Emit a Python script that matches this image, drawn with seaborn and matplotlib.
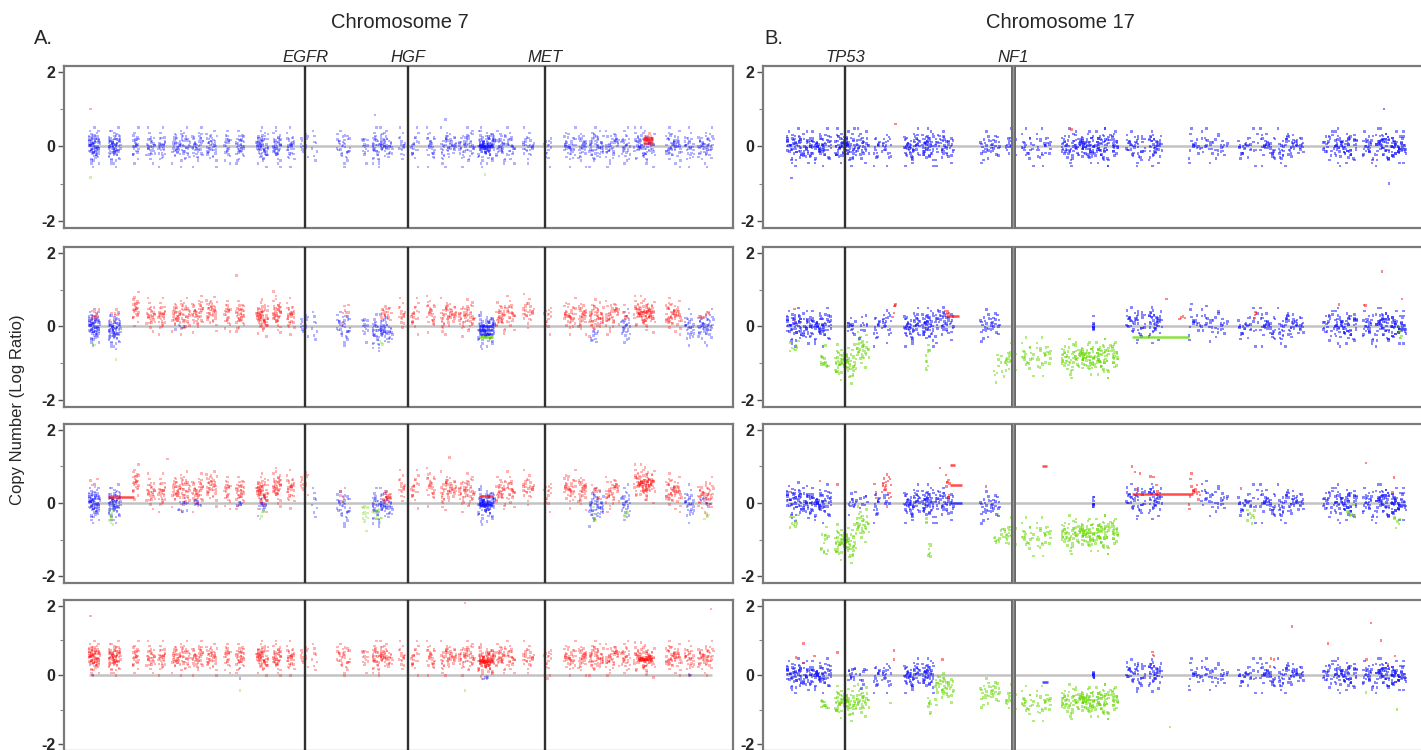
import numpy as np
import pandas as pd
import matplotlib
matplotlib.use("Agg")
import matplotlib.pyplot as plt
import seaborn as sns

sns.set_theme(style="white")
plt.rcParams["font.family"] = ["Liberation Sans", "DejaVu Sans"]

# ---------------------------------------------------------------- data
# probe clusters along each chromosome (Mb): centre, half-width, probe count
chr7_centre = [1.2, 6.3, 11.8, 15.6, 18.5, 23.3, 27.6, 31.2, 35.3, 38.5, 44.1, 47.9, 51.4, 54.9, 57.5,
               64.9, 70.4, 74.6, 79.8, 83.1, 87.2, 91.6, 96.3, 101.3, 105.1, 107.7, 112.1, 117.1, 122.7,
               125.9, 129.4, 133.5, 137.0, 141.7, 149.1, 153.2, 157.3]
chr7_halfw = [1.3, 1.5, 0.8, 1.0, 0.9, 2.2, 1.3, 1.3, 0.8, 1.0, 1.4, 1.0, 1.0, 0.9, 0.7, 1.6, 0.7, 2.5, 0.7,
              1.0, 1.0, 1.9, 1.9, 2.0, 1.2, 1.0, 1.4, 0.9, 1.4, 1.0, 1.7, 1.7, 1.0, 2.6, 1.9, 1.2, 1.9]
chr7_count = [85, 85, 26, 30, 28, 65, 40, 40, 22, 34, 65, 42, 30, 14, 8, 35, 14, 78, 17, 20, 28, 50, 50, 95,
              34, 25, 28, 14, 40, 30, 54, 42, 30, 75, 56, 30, 50]
chr7_genes = ["EGFR", "HGF", "MET"]
chr7_gene_pos = [55.1, 81.3, 116.4]
chr7_len = 159.1

chr17_centre = [1.4, 4.3, 7.6, 9.8, 11.7, 13.0, 16.3, 18.4, 20.5, 26.5, 29.2, 31.4, 33.5, 37.2, 40.7, 45.5,
                48.0, 53.1, 55.7, 60.1, 62.7, 65.6, 70.6, 72.8, 75.8, 78.7]
chr17_halfw = [1.4, 1.4, 1.3, 0.8, 0.4, 0.6, 1.0, 0.7, 1.2, 1.2, 0.7, 0.8, 1.0, 1.4, 2.3, 1.2, 0.8, 0.7, 1.6,
               1.3, 1.0, 1.6, 0.7, 1.4, 0.7, 1.9]
chr17_count = [75, 70, 75, 35, 14, 20, 55, 48, 48, 35, 21, 21, 25, 62, 125, 42, 42, 17, 35, 30, 35, 56, 20, 70,
               28, 105]
chr17_genes = ["TP53", "NF1"]
chr17_gene_pos = [7.6, 29.5]
chr17_len = 80.6

# fixed probe-scatter tables (position within a cluster, residual in sd units)
XQ = [-0.9, 0.3, -0.5, 0.8, -0.1, 0.3, -0.9, 0.55, -0.3, 0.1, 1.0, -0.7, 0.3, -0.5, 0.8, -0.1, 0.55, -0.9,
      0.1, -0.3, 0.8, -0.7, 0.3, 1.0, -0.5, -0.1, 0.55, -0.9, 0.1, 0.8, -0.3, -0.7, 0.3, 1.0, -0.1, 0.55,
      -0.5, 0.1, -0.3, -0.7]
YJ = [0.12, -0.85, 1.43, -0.31, 0.67, -1.62, 0.05, 0.94, -0.48, 1.98, -1.12, 0.33, -0.07, 0.71, -2.2, 0.49,
      -0.66, 1.15, -0.19, 0.27, -1.35, 0.88, -0.93, 0.58, 1.7, -0.41, -0.02, 1.02, -0.77, 0.21, -1.8, 0.39,
      1.27, -0.56, 0.14, -1.05, 0.62, -0.26, 2.4, -0.71, 0.08, -1.49, 0.81, -0.14, 0.45, -0.98, 1.56, -0.36,
      0.29, -0.6, 1.09, -1.22, 0.17, -0.09, 0.74, -2.6, 0.53, -0.45, 1.32, -0.24, 0.97]

# ---- Chromosome 7 samples: per-cluster level / call, extra groups, segments
a1_levels = [0.0] * 37
a1_calls = "b" * 37
a1_sd = 0.21
a1_extra = [(101.3, 1.6, 40, 0.0, "b", 0.05), (142.6, 1.0, 14, 0.18, "r", 0.07), (0.3, 0, 1, 1.0, "r", 0),
            (0.3, 0, 1, -0.83, "g", 0), (101.0, 0, 1, -0.75, "g", 0), (91.0, 0, 1, 0.72, "b", 0),
            (73.0, 0, 1, 0.85, "b", 0)]
a1_segs = [(141.3, 143.9, 0.24, "r"), (141.3, 143.9, 0.17, "r"), (141.3, 143.9, 0.10, "r"),
           (99.5, 103.2, 0.0, "b")]

a2_levels = [0.0, -0.1, 0.45, 0.3, 0.3, 0.3, 0.35, 0.4, 0.3, 0.3, 0.25, 0.35, 0.3, 0.0, 0.0, 0.0, 0.0, -0.15,
             0.3, 0.3, 0.35, 0.3, 0.25, -0.1, 0.25, 0.35, 0.4, 0.3, 0.3, 0.3, 0.25, 0.3, 0.0, 0.35, 0.3, 0.0, 0.0]
a2_calls = "bb" + "r" * 11 + "b" * 5 + "r" * 5 + "b" + "r" * 8 + "b" + "rr" + "bb"
a2_sd = 0.2
a2_extra = [(1.5, 1.0, 10, 0.4, "r", 0.12), (1.2, 0.5, 2, -0.5, "g", 0.05), (6.3, 1.2, 8, 0.3, "r", 0.1),
            (6.8, 0, 1, -0.9, "g", 0), (23.3, 1.5, 5, 0.0, "b", 0.1), (65.5, 1.0, 8, 0.35, "r", 0.12),
            (75.8, 1.2, 20, 0.35, "r", 0.12), (74.8, 0.6, 3, -0.4, "g", 0.05), (101.3, 1.6, 8, -0.3, "g", 0.03),
            (129.0, 1.0, 10, -0.2, "b", 0.12), (137.0, 0.8, 8, 0.3, "r", 0.12), (142.0, 1.8, 30, 0.35, "r", 0.08),
            (157.0, 1.5, 10, 0.3, "r", 0.12), (37.6, 0, 1, 1.39, "r", 0), (47.0, 0, 1, 0.95, "r", 0)]
a2_segs = [(99.5, 103.2, 0.0, "b"), (99.5, 103.2, -0.1, "b"), (99.5, 103.2, -0.2, "b"),
           (99.5, 103.2, -0.3, "g")]

a3_levels = [0.0, 0.0, 0.55, 0.3, 0.3, 0.35, 0.3, 0.45, 0.3, 0.3, 0.3, 0.45, 0.4, 0.5, 0.0, -0.1, -0.3, -0.1,
             0.4, 0.4, 0.45, 0.35, 0.3, -0.05, 0.3, 0.35, 0.4, 0.3, 0.4, 0.35, -0.1, 0.3, 0.0, 0.55, 0.3, 0.0, 0.2]
a3_calls = "bb" + "r" * 12 + "bb" + "g" + "b" + "r" * 5 + "b" + "r" * 6 + "b" + "r" + "b" + "rr" + "b" + "r"
a3_sd = 0.21
a3_extra = [(1.2, 1.0, 4, 0.6, "r", 0.1), (5.6, 0.6, 12, -0.45, "g", 0.18), (23.8, 1.2, 12, -0.05, "b", 0.12),
            (27.6, 0.8, 8, 0.0, "b", 0.1), (38.5, 0.7, 6, 0.0, "b", 0.08), (44.1, 1.0, 12, -0.1, "b", 0.12),
            (44.1, 0.6, 5, -0.35, "g", 0.1), (65.0, 1.0, 6, 0.3, "r", 0.1), (73.5, 1.2, 12, -0.4, "g", 0.15),
            (76.0, 1.0, 12, 0.2, "r", 0.1), (129.0, 0.6, 8, -0.4, "g", 0.12), (129.4, 1.2, 10, 0.3, "r", 0.12),
            (137.0, 0.6, 6, -0.3, "g", 0.1), (142.2, 1.6, 30, 0.55, "r", 0.07), (141.7, 2.0, 10, 0.3, "r", 0.1),
            (157.3, 1.4, 8, 0.0, "b", 0.1), (157.8, 0.8, 4, -0.3, "g", 0.08), (101.3, 1.6, 30, -0.03, "b", 0.05),
            (92.0, 0, 1, 1.25, "r", 0), (20.0, 0, 1, 1.2, "r", 0)]
a3_segs = [(4.8, 11.5, 0.17, "r"), (99.5, 103.2, 0.2, "r"), (99.5, 103.2, -0.05, "b"), (75.5, 77.0, 0.15, "r")]

a4_levels = [0.5] * 23 + [0.4] + [0.5] * 9 + [0.45] + [0.5] * 3
a4_calls = "r" * 37
a4_sd = 0.2
a4_extra = [(101.3, 1.6, 35, 0.4, "r", 0.05), (142.0, 1.6, 30, 0.45, "r", 0.06), (0.3, 0, 1, 1.7, "r", 0),
            (158.8, 0, 1, 1.9, "r", 0), (96.0, 0, 1, 2.08, "r", 0), (0.2, 0, 1, 0.3, "b", 0),
            (0.8, 0, 1, 0.0, "b", 0), (38.5, 0, 1, 0.2, "b", 0), (38.5, 0, 1, -0.1, "b", 0),
            (101.3, 0.8, 4, -0.08, "b", 0.02), (153.5, 0.5, 3, 0.0, "b", 0.02), (38.5, 0, 1, -0.45, "g", 0),
            (96.0, 0, 1, -0.45, "g", 0), (117.0, 0, 1, -0.1, "r", 0)]
a4_segs = [(99.5, 103.2, 0.41, "r"), (140.5, 143.8, 0.45, "r")]

# ---- Chromosome 17 samples
b1_levels = [0.0] * 26
b1_calls = "b" * 26
b1_sd = 0.2
b1_extra = [(14.2, 0, 1, 0.6, "r", 0), (37.1, 0, 1, 0.45, "r", 0), (7.6, 0.3, 12, 0.0, "b", 0.15),
            (29.5, 0.1, 6, -0.3, "b", 0.25), (29.5, 0, 1, -0.75, "b", 0), (77.9, 0, 1, 1.0, "b", 0),
            (78.5, 0, 1, -1.0, "b", 0), (0.6, 0, 1, -0.85, "b", 0)]
b1_segs = []

b2_levels = [0.0, 0.0, -1.0, -0.65, 0.0, 0.1, 0.0, 0.0, 0.1, 0.05, -0.95, -0.8, -0.8, -0.85, -0.85, 0.1, 0.1,
             0.1, 0.05, 0.0, 0.0, 0.0, 0.0, 0.0, 0.0, 0.0]
b2_calls = "bbggbbbbbb" + "ggggg" + "b" * 11
b2_sd = 0.21
b2_extra = [(1.0, 0.6, 8, -0.45, "g", 0.12), (1.0, 0, 1, 0.47, "r", 0), (1.0, 0, 1, 0.18, "r", 0),
            (4.9, 0.5, 14, -0.95, "g", 0.18), (8.4, 0.5, 15, 0.0, "b", 0.15), (10.0, 0.5, 10, 0.0, "b", 0.15),
            (14.0, 0.2, 5, 0.4, "r", 0.15), (18.4, 0.3, 10, -0.8, "g", 0.15), (20.9, 0.3, 5, 0.35, "r", 0.05),
            (27.8, 0.9, 15, -1.0, "g", 0.2), (40.0, 0.05, 10, 0.0, "b", 0.12), (51.5, 0.6, 4, 0.2, "r", 0.08),
            (61.0, 0.2, 5, 0.3, "r", 0.12), (72.0, 0, 1, 0.6, "r", 0), (75.3, 0.3, 2, 0.55, "r", 0.03),
            (77.6, 0, 1, 1.5, "r", 0), (80.2, 0, 1, 0.75, "r", 0), (80.0, 0.2, 5, -0.3, "g", 0.12),
            (49.5, 0, 1, 0.75, "r", 0)]
b2_segs = [(45.0, 52.5, -0.28, "g"), (20.7, 22.5, 0.28, "r")]

b3_levels = [0.05, 0.0, -1.1, -0.6, 0.0, 0.45, 0.0, 0.0, 0.0, -0.1, -0.9, -0.9, -0.9, -0.85, -0.85, 0.1, 0.1,
             0.3, 0.1, 0.0, 0.0, 0.0, 0.0, 0.0, 0.0, 0.0]
b3_calls = "bbggbrbbbb" + "ggggg" + "bbrbbbbbbbb"
b3_sd = 0.21
b3_extra = [(1.0, 0.6, 10, -0.4, "g", 0.15), (0.5, 0, 1, 0.3, "r", 0), (4.9, 0.5, 14, -1.0, "g", 0.22),
            (4.3, 0, 1, 0.6, "r", 0), (6.6, 0, 1, 0.5, "r", 0), (8.6, 0.5, 14, 0.0, "b", 0.15),
            (10.0, 0.5, 8, 0.0, "b", 0.15), (11.7, 0.3, 3, 0.5, "r", 0.2), (13.0, 0.4, 6, 0.0, "b", 0.15),
            (18.6, 0.2, 8, -1.2, "g", 0.15), (18.2, 0, 3, -0.5, "g", 0.1), (21.0, 0.3, 8, 0.45, "r", 0.2),
            (27.7, 0.9, 15, -0.9, "g", 0.25), (26.0, 0, 1, 0.45, "r", 0), (45.5, 1.0, 4, 0.7, "r", 0.15),
            (48.0, 0.6, 4, 0.5, "r", 0.2), (60.5, 0.5, 8, -0.3, "g", 0.1), (59.2, 0, 1, 0.4, "r", 0),
            (40.0, 0.05, 10, 0.1, "b", 0.12), (73.5, 0.6, 8, -0.3, "g", 0.1), (79.5, 0.4, 6, -0.5, "g", 0.12),
            (75.5, 0, 1, 1.1, "r", 0), (79.2, 0, 1, 0.7, "r", 0), (79.0, 0, 1, 0.3, "r", 0),
            (20.0, 0, 1, 0.95, "r", 0)]
b3_segs = [(21.3, 22.8, 0.5, "r"), (21.3, 21.9, 1.05, "r"), (21.3, 22.8, 0.0, "b"), (45.0, 53.0, 0.25, "r"),
           (33.3, 33.9, 1.0, "r")]

b4_levels = [0.0, 0.0, -0.8, -0.75, 0.0, 0.0, 0.0, 0.0, -0.35, -0.5, -0.75, -0.8, -0.8, -0.75, -0.75, 0.05,
             0.05, 0.0, 0.0, 0.0, 0.0, 0.0, 0.0, 0.0, 0.0, 0.0]
b4_calls = "bbggbbbbgggggggbbbbbbbbbbb"
b4_sd = 0.2
b4_extra = [(1.2, 0, 1, 0.5, "r", 0), (2.2, 0, 1, 0.9, "r", 0), (2.2, 0, 1, 0.35, "r", 0),
            (4.9, 0.5, 10, -0.85, "g", 0.15), (3.6, 0, 1, 0.55, "r", 0), (6.6, 0, 1, 0.65, "r", 0),
            (8.5, 0.5, 14, 0.0, "b", 0.15), (10.0, 0.5, 8, 0.0, "b", 0.15), (14.0, 0, 1, 0.7, "r", 0),
            (14.0, 0, 1, 0.45, "r", 0), (13.5, 0, 1, -0.8, "g", 0), (18.6, 0.2, 8, -0.9, "g", 0.15),
            (20.3, 0, 1, 0.45, "r", 0), (40.0, 0.05, 10, 0.0, "b", 0.1), (47.8, 0.2, 3, 0.5, "r", 0.08),
            (63.4, 0.3, 2, 0.45, "r", 0.02), (63.0, 0, 1, 0.25, "r", 0), (65.9, 0, 1, 1.4, "r", 0),
            (70.6, 0, 1, 0.9, "r", 0), (75.6, 0, 1, 0.45, "r", 0), (76.2, 0, 1, 1.5, "r", 0),
            (77.5, 0, 1, 1.0, "r", 0), (78.4, 0, 1, 0.3, "r", 0), (79.3, 0, 1, 0.55, "r", 0),
            (75.5, 0, 1, -0.5, "g", 0), (79.6, 0, 1, -1.0, "g", 0), (50.0, 0, 1, -1.5, "g", 0)]
b4_segs = [(33.3, 34.0, -0.2, "b")]

# ---------------------------------------------------------------- helpers
PAL = {"b": "#1010ff", "r": "#ff1010", "g": "#66d800"}


def probes(centre, halfw, count, levels, calls, sd, extra):
    xs, ys, cs = [], [], []
    nx, ny = len(XQ), len(YJ)
    for c, (ctr, hw, n, lv, cl) in enumerate(zip(centre, halfw, count, levels, calls)):
        for k in range(n):
            fine = 0.06 * YJ[(3 * k + 2 * c) % ny]
            xs.append(ctr + hw * (XQ[(k + 3 * c) % nx] + fine))
            ys.append(lv + sd * YJ[(7 * k + 5 * c) % ny])
            cs.append(cl)
    for e, (ctr, hw, n, lv, cl, esd) in enumerate(extra):
        for k in range(n):
            fine = 0.06 * YJ[(3 * k + 7 * e) % ny]
            xs.append(ctr + hw * (XQ[(k + 11 * e) % nx] + fine))
            ys.append(lv + esd * YJ[(5 * k + 13 * e) % ny])
            cs.append(cl)
    return pd.DataFrame({"pos": xs, "lr": ys, "call": cs})


W, H = 1421, 750
fig = plt.figure(figsize=(W / 100, H / 100), dpi=100)

rows_px = [(66, 228), (247, 407), (424, 583), (600, 751)]
col_px = [(64, 733), (763, 1431)]

chr7_samples = [(a1_levels, a1_calls, a1_sd, a1_extra, a1_segs), (a2_levels, a2_calls, a2_sd, a2_extra, a2_segs),
                (a3_levels, a3_calls, a3_sd, a3_extra, a3_segs), (a4_levels, a4_calls, a4_sd, a4_extra, a4_segs)]
chr17_samples = [(b1_levels, b1_calls, b1_sd, b1_extra, b1_segs), (b2_levels, b2_calls, b2_sd, b2_extra, b2_segs),
                 (b3_levels, b3_calls, b3_sd, b3_extra, b3_segs), (b4_levels, b4_calls, b4_sd, b4_extra, b4_segs)]

chroms = [
    dict(centre=chr7_centre, halfw=chr7_halfw, count=chr7_count, genes=chr7_genes, gpos=chr7_gene_pos,
         length=chr7_len, xlim=(-6.5, 164.4), samples=chr7_samples, alpha=0.32),
    dict(centre=chr17_centre, halfw=chr17_halfw, count=chr17_count, genes=chr17_genes, gpos=chr17_gene_pos,
         length=chr17_len, xlim=(-3.1, 84.0), samples=chr17_samples, alpha=0.5),
]

for ci, ch in enumerate(chroms):
    l, r = col_px[ci]
    for ri, (t, b) in enumerate(rows_px):
        ax = fig.add_axes([l / W, 1 - b / H, (r - l) / W, (b - t) / H])
        lv, cl, sd, extra, segs = ch["samples"][ri]
        df = probes(ch["centre"], ch["halfw"], ch["count"], lv, cl, sd, extra)
        ax.hlines(0, 0, ch["length"], color="#c2c2c2", lw=1.8, zorder=0.5)
        sns.scatterplot(data=df, x="pos", y="lr", hue="call", palette=PAL, marker="s", s=3.2,
                        linewidth=0, alpha=ch["alpha"], legend=False, ax=ax, zorder=2)
        for (x0, x1, y, c) in segs:
            ax.plot([x0, x1], [y, y], color=PAL[c], lw=1.8, alpha=0.75, zorder=3, solid_capstyle="butt")
        for gi, gp in enumerate(ch["gpos"]):
            if ch["genes"][gi] == "NF1":
                ax.axvline(gp, color="#6a6a6a", lw=3.6, zorder=4)
                ax.axvline(gp, color="#9a9a9a", lw=1.0, zorder=4)
            else:
                ax.axvline(gp, color="#303030", lw=1.7, zorder=4)
            if ri == 0:
                ax.text(gp, 1.005, ch["genes"][gi], transform=ax.get_xaxis_transform(), ha="center",
                        va="bottom", fontsize=12, style="italic")
        ax.set_xlim(*ch["xlim"])
        ax.set_ylim(-2.19, 2.16)
        ax.set_xticks([])
        ax.set_yticks([-2, 0, 2])
        ax.set_yticklabels(["-2", "0", "2"], fontweight="bold")
        ax.set_yticks([-1, 1], minor=True)
        ax.tick_params(axis="y", which="major", left=True, length=4, width=1, labelsize=11.5, pad=2,
                       color="#555555")
        ax.tick_params(axis="y", which="minor", left=True, length=3, width=0.8, color="#888888")
        ax.set_xlabel("")
        ax.set_ylabel("")
        for sp in ax.spines.values():
            sp.set_color("#7a7a7a")
            sp.set_linewidth(1.6)

fig.text(400 / W, 1 - 22 / H, "Chromosome 7", ha="center", va="center", fontsize=14.5)
fig.text(1060 / W, 1 - 22 / H, "Chromosome 17", ha="center", va="center", fontsize=14.5)
fig.text(34 / W, 1 - 38 / H, "A.", ha="left", va="center", fontsize=14.5)
fig.text(764 / W, 1 - 38 / H, "B.", ha="left", va="center", fontsize=14.5)
fig.text(18 / W, 1 - 410 / H, "Copy Number (Log Ratio)", rotation=90, ha="center", va="center", fontsize=12)

fig.savefig("out.png", dpi=100)
